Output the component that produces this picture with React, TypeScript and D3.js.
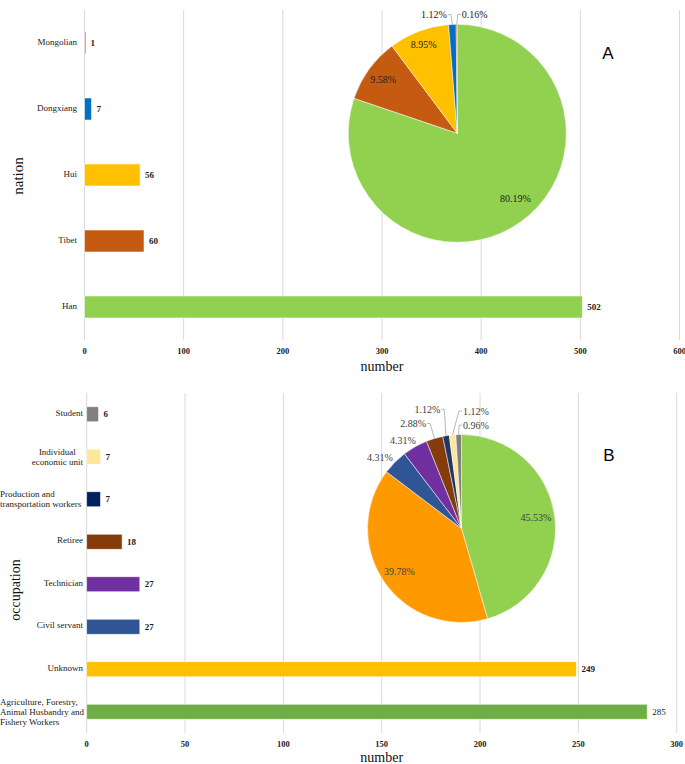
import React from 'react';
import * as d3 from 'd3';

// ---------- DATA ----------
const nationCategories = ['Han', 'Tibet', 'Hui', 'Dongxiang', 'Mongolian'];
const nationCounts = [502, 60, 56, 7, 1];
const nationTicks = [0, 100, 200, 300, 400, 500, 600];

const occupationCategories = [
  'Agriculture, Forestry,\nAnimal Husbandry and\nFishery Workers',
  'Unknown',
  'Civil servant',
  'Technician',
  'Retiree',
  'Production and\ntransportation workers',
  'Individual\neconomic unit',
  'Student',
];
const occupationCounts = [285, 249, 27, 27, 18, 7, 7, 6];
const occupationTicks = [0, 50, 100, 150, 200, 250, 300];

// ---------- STYLE ----------
const nationBarColors = ['#92D050', '#C55A11', '#FFC000', '#0070C0', '#EE7479'];
const nationPieColors = ['#92D050', '#C55A11', '#FFC000', '#0070C0', '#D8333A'];
const occBarColors = ['#70AD47', '#FFC000', '#2F5597', '#7030A0', '#843C0C', '#002060', '#FFE699', '#808080'];
const occPieColors = ['#92D050', '#FF9900', '#2F5597', '#7030A0', '#843C0C', '#203864', '#FFE699', '#808080'];

type LabelLayout = { k: number; dx?: number; dy?: number; leader?: boolean };
const nationLabelLayout: LabelLayout[] = [
  { k: 0.82, dx: 6, dy: -7 },
  { k: 0.84 },
  { k: 0.87 },
  { k: 1.09, dx: -18, leader: true },
  { k: 1.09, dx: 18, leader: true },
];
const occLabelLayout: LabelLayout[] = [
  { k: 0.8 },
  { k: 0.8 },
  { k: 1.15, dx: -5, dy: 5 },
  { k: 1.13, dx: -6, dy: 4 },
  { k: 1.2, dx: -16, dy: 3, leader: true },
  { k: 1.27, dx: -14.5, dy: -1.5, leader: true },
  { k: 1.25, dx: 25.5, dy: -0.5, leader: true },
  { k: 1.1, dx: 17.6, leader: true },
];

const SERIF = "'Liberation Serif', 'Times New Roman', serif";
const SANS = "'Liberation Sans', Arial, sans-serif";

let _ctx: CanvasRenderingContext2D | null = null;
function textWidth(t: string, font: string) {
  if (!_ctx && typeof document !== 'undefined') _ctx = document.createElement('canvas').getContext('2d');
  if (!_ctx) return t.length * 5;
  _ctx.font = font;
  return _ctx.measureText(t).width;
}

type PanelProps = {
  categories: string[];
  counts: number[];
  ticks: number[];
  barColors: string[];
  pieColors: string[];
  labelLayout: LabelLayout[];
  xRange: [number, number];
  yRange: [number, number];
  barPad: number;
  pieCenter: [number, number];
  pieR: number;
  axisTitle: string;
  axisTitlePos: [number, number];
  axisTitleSize: number;
  numberY: number;
  tickY: number;
  catRight: number;
  panelLetter: string;
  letterPos: [number, number];
  pieLabelColor: string;
  boldLabelsExceptFirst?: boolean;
};

function Panel(p: PanelProps) {
  const x = d3.scaleLinear().domain([p.ticks[0], p.ticks[p.ticks.length - 1]]).range(p.xRange);
  const y = d3
    .scaleBand<string>()
    .domain([...p.categories].reverse())
    .range(p.yRange)
    .paddingInner(p.barPad)
    .paddingOuter(p.barPad / 2);
  const total = d3.sum(p.counts);
  const pie = d3
    .pie<number>()
    .sort(null)
    .value((d) => d)(p.counts);
  const arc = d3.arc<d3.PieArcDatum<number>>().innerRadius(0).outerRadius(p.pieR);
  const [cx, cy] = p.pieCenter;
  const catFont = `9px ${SERIF}`;
  const pctFont = `10px ${SERIF}`;

  return (
    <g>
      {/* gridlines */}
      {p.ticks.map((t) => (
        <line key={'g' + t} x1={x(t)} x2={x(t)} y1={p.yRange[0]} y2={p.yRange[1]} stroke="#D9D9D9" strokeWidth={1} />
      ))}
      {/* tick labels */}
      {p.ticks.map((t) => (
        <text key={'t' + t} x={x(t)} y={p.tickY} textAnchor="middle" dy="0.35em" fontFamily={SERIF} fontWeight="bold" fontSize={8.5} fill="#222">
          {t}
        </text>
      ))}
      {/* bars */}
      {p.categories.map((c, i) => (
        <rect
          key={'b' + i}
          x={x(0)}
          y={y(c)!}
          width={Math.max(1.5, x(p.counts[i]) - x(0))}
          height={y.bandwidth()}
          fill={p.barColors[i]}
          stroke="#fff"
          strokeOpacity={0.7}
          strokeWidth={0.75}
        />
      ))}
      {/* bar value labels */}
      {p.categories.map((c, i) => (
        <text
          key={'v' + i}
          x={x(p.counts[i]) + 5}
          y={y(c)! + y.bandwidth() / 2}
          dy="0.35em"
          fontFamily={SERIF}
          fontWeight={p.boldLabelsExceptFirst && i === 0 ? 'normal' : 'bold'}
          fontSize={9}
          fill="#222"
        >
          {p.counts[i]}
        </text>
      ))}
      {/* category labels */}
      {p.categories.map((c, i) => {
        const lines = c.split('\n');
        const widths = lines.map((l) => textWidth(l, catFont));
        const maxW = Math.max(...widths);
        const cyb = y(c)! + y.bandwidth() / 2;
        const lh = 10;
        const startY = cyb - ((lines.length - 1) * lh) / 2 - (lines.length === 1 ? 1.5 : 0);
        const leftAligned = maxW > p.catRight - 2;
        return (
          <text key={'c' + i} fontFamily={SERIF} fontSize={9} fill="#222">
            {lines.map((l, j) => (
              <tspan
                key={j}
                x={leftAligned ? 0 : p.catRight - maxW / 2}
                y={startY + j * lh}
                dy="0.35em"
                textAnchor={leftAligned ? 'start' : 'middle'}
              >
                {l}
              </tspan>
            ))}
          </text>
        );
      })}
      {/* axis titles */}
      <text
        transform={`translate(${p.axisTitlePos[0]},${p.axisTitlePos[1]}) rotate(-90)`}
        textAnchor="middle"
        dy="0.35em"
        fontFamily={SERIF}
        fontSize={p.axisTitleSize}
        fill="#111"
      >
        {p.axisTitle}
      </text>
      <text
        x={(p.xRange[0] + p.xRange[1]) / 2}
        y={p.numberY}
        textAnchor="middle"
        dy="0.35em"
        fontFamily={SERIF}
        fontSize={14}
        fill="#111"
      >
        number
      </text>
      {/* pie */}
      <g transform={`translate(${cx},${cy})`}>
        {pie.map((s, i) => (
          <path key={'p' + i} d={arc(s)!} fill={p.pieColors[i]} stroke="#fff" strokeWidth={0.5} />
        ))}
      </g>
      {pie.map((s, i) => {
        const lay = p.labelLayout[i];
        const mid = (s.startAngle + s.endAngle) / 2;
        const lx = cx + Math.sin(mid) * p.pieR * lay.k + (lay.dx || 0);
        const ly = cy - Math.cos(mid) * p.pieR * lay.k + (lay.dy || 0);
        const label = ((s.value / total) * 100).toFixed(2) + '%';
        const w = textWidth(label, pctFont);
        let leader = null;
        if (lay.leader) {
          const ox = cx + Math.sin(mid) * p.pieR;
          const oy = cy - Math.cos(mid) * p.pieR;
          const right = lx > ox;
          const ex = right ? lx - w / 2 - 1 : lx + w / 2 + 1;
          const pts: [number, number][] = [
            [ex, ly],
            [ex + (right ? -3 : 3), ly],
            [ox, oy],
          ];
          leader = <path d={d3.line()(pts)!} fill="none" stroke="#A6A6A6" strokeWidth={0.8} />;
        }
        return (
          <g key={'l' + i}>
            {leader}
            <text x={lx} y={ly} dy="0.35em" textAnchor="middle" fontFamily={SERIF} fontSize={10} fill={p.pieLabelColor}>
              {label}
            </text>
          </g>
        );
      })}
      <text x={p.letterPos[0]} y={p.letterPos[1]} dy="0.35em" textAnchor="middle" fontFamily={SANS} fontSize={17} fill="#000">
        {p.panelLetter}
      </text>
    </g>
  );
}

export default function App() {
  return (
    <svg width={685} height={764} style={{ position: 'absolute', left: 0, top: 0, background: '#fff' }}>
      <rect x={0} y={0} width={685} height={764} fill="#fff" />
      <Panel
        categories={nationCategories}
        counts={nationCounts}
        ticks={nationTicks}
        barColors={nationBarColors}
        pieColors={nationPieColors}
        labelLayout={nationLabelLayout}
        xRange={[84.5, 679.5]}
        yRange={[10, 340]}
        barPad={0.667}
        pieCenter={[457.3, 133.3]}
        pieR={109}
        axisTitle="nation"
        axisTitlePos={[18, 176]}
        axisTitleSize={15}
        numberY={366}
        tickY={351}
        catRight={77}
        panelLetter="A"
        letterPos={[608, 53]}
        pieLabelColor="#222"
      />
      <Panel
        categories={occupationCategories}
        counts={occupationCounts}
        ticks={occupationTicks}
        barColors={occBarColors}
        pieColors={occPieColors}
        labelLayout={occLabelLayout}
        xRange={[86.7, 676.7]}
        yRange={[393, 733]}
        barPad={0.647}
        pieCenter={[461.5, 528.5]}
        pieR={94}
        axisTitle="occupation"
        axisTitlePos={[15, 590]}
        axisTitleSize={14}
        numberY={757}
        tickY={744}
        catRight={83}
        panelLetter="B"
        letterPos={[609, 455]}
        pieLabelColor="#404040"
        boldLabelsExceptFirst={true}
      />
    </svg>
  );
}
